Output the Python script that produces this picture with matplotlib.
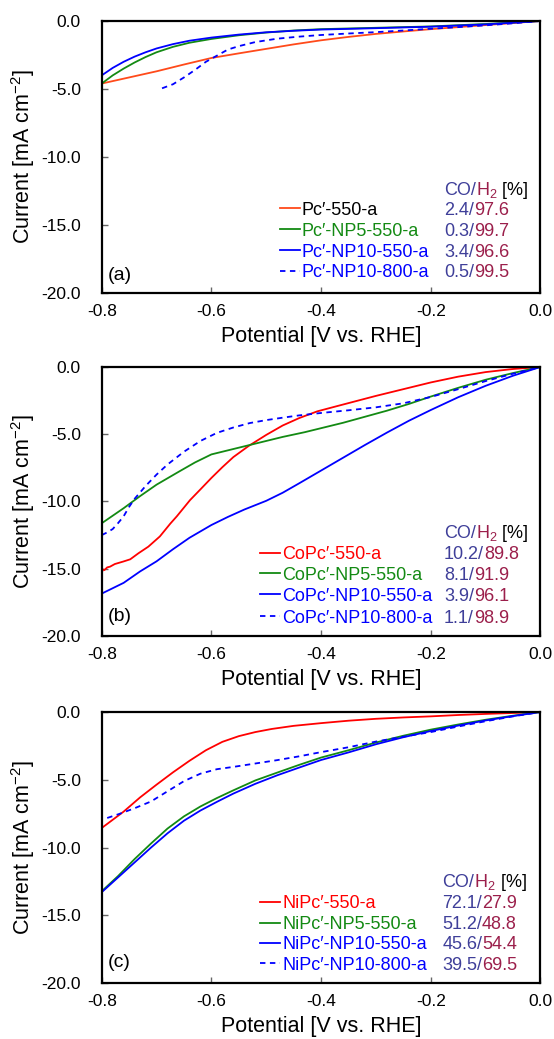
import matplotlib
matplotlib.use("Agg")
import matplotlib.pyplot as plt
from matplotlib.ticker import FormatStrFormatter
from matplotlib.transforms import offset_copy

plt.rcParams['font.family'] = ['Liberation Sans', 'DejaVu Sans']
plt.rcParams['mathtext.fontset'] = 'custom'
plt.rcParams['mathtext.rm'] = 'Liberation Sans'
plt.rcParams['mathtext.it'] = 'Liberation Sans:italic'
plt.rcParams['axes.unicode_minus'] = False

# ---- panel (a): metal-free Pc'
a_550_v = [-0.80, -0.75, -0.70, -0.65, -0.60, -0.55, -0.50, -0.45, -0.40, -0.35, -0.30, -0.25, -0.20, -0.15, -0.10, -0.05, 0.00]
a_550_j = [-4.6, -4.15, -3.7, -3.2, -2.72, -2.38, -2.05, -1.72, -1.42, -1.17, -0.95, -0.77, -0.6, -0.45, -0.3, -0.15, 0.0]
a_np5_v = [-0.80, -0.78, -0.76, -0.74, -0.72, -0.70, -0.67, -0.64, -0.60, -0.55, -0.50, -0.45, -0.40, -0.30, -0.20, -0.10, 0.00]
a_np5_j = [-4.6, -4.0, -3.5, -3.05, -2.65, -2.3, -1.9, -1.6, -1.32, -1.05, -0.85, -0.7, -0.6, -0.5, -0.4, -0.22, 0.0]
a_np10_v = [-0.80, -0.78, -0.76, -0.74, -0.72, -0.70, -0.67, -0.64, -0.60, -0.55, -0.50, -0.45, -0.40, -0.30, -0.20, -0.10, 0.00]
a_np10_j = [-4.0, -3.45, -3.0, -2.62, -2.3, -2.02, -1.7, -1.45, -1.22, -1.0, -0.83, -0.72, -0.63, -0.53, -0.42, -0.25, 0.0]
a_800_v = [-0.69, -0.67, -0.65, -0.63, -0.61, -0.59, -0.57, -0.55, -0.52, -0.48, -0.44, -0.40, -0.35, -0.30, -0.25, -0.20, -0.15, -0.10, -0.05, 0.00]
a_800_j = [-4.95, -4.65, -4.15, -3.6, -3.0, -2.55, -2.1, -1.85, -1.55, -1.3, -1.15, -1.03, -0.92, -0.82, -0.7, -0.57, -0.45, -0.32, -0.17, 0.0]

# ---- panel (b): CoPc'
b_550_v = [-0.800, -0.798, -0.795, -0.790, -0.785, -0.776, -0.761, -0.748, -0.733, -0.715, -0.694, -0.675, -0.663, -0.650,
           -0.639, -0.620, -0.600, -0.580, -0.560, -0.532, -0.500, -0.470, -0.440, -0.407, -0.370, -0.342, -0.300, -0.250,
           -0.200, -0.150, -0.100, -0.050, 0.000]
b_550_j = [-15.35, -15.05, -15.1, -14.9, -14.85, -14.65, -14.47, -14.3, -13.85, -13.36, -12.6, -11.65, -11.1, -10.45,
           -9.9, -9.1, -8.25, -7.45, -6.7, -5.87, -5.05, -4.35, -3.8, -3.3, -2.9, -2.6, -2.15, -1.65,
           -1.15, -0.72, -0.38, -0.15, 0.0]
b_np5_v = [-0.80, -0.76, -0.73, -0.70, -0.66, -0.63, -0.60, -0.56, -0.53, -0.50, -0.47, -0.43, -0.40, -0.36, -0.32, -0.28,
           -0.24, -0.20, -0.15, -0.10, -0.05, 0.00]
b_np5_j = [-11.62, -10.5, -9.6, -8.75, -7.8, -7.1, -6.5, -6.1, -5.8, -5.5, -5.2, -4.85, -4.55, -4.15, -3.7, -3.25,
           -2.75, -2.2, -1.55, -0.95, -0.45, 0.0]
b_np10_v = [-0.80, -0.76, -0.73, -0.70, -0.67, -0.64, -0.60, -0.57, -0.54, -0.50, -0.47, -0.44, -0.40, -0.36, -0.32, -0.28,
            -0.24, -0.20, -0.15, -0.10, -0.05, 0.00]
b_np10_j = [-16.85, -16.05, -15.2, -14.45, -13.55, -12.7, -11.75, -11.15, -10.6, -9.95, -9.35, -8.65, -7.7, -6.75, -5.8, -4.88,
            -4.0, -3.2, -2.25, -1.4, -0.65, 0.0]
b_800_v = [-0.80, -0.79, -0.78, -0.77, -0.76, -0.75, -0.74, -0.72, -0.70, -0.68, -0.65, -0.62, -0.59, -0.56, -0.53, -0.50,
           -0.47, -0.44, -0.40, -0.35, -0.30, -0.25, -0.20, -0.15, -0.10, -0.05, 0.00]
b_800_j = [-12.5, -12.3, -12.05, -11.6, -11.1, -10.4, -9.8, -8.85, -8.0, -7.25, -6.3, -5.5, -4.9, -4.5, -4.17, -3.95,
           -3.77, -3.6, -3.42, -3.22, -3.0, -2.7, -2.23, -1.65, -1.05, -0.5, 0.0]

# ---- panel (c): NiPc'
c_550_v = [-0.80, -0.76, -0.73, -0.70, -0.67, -0.64, -0.61, -0.58, -0.55, -0.52, -0.49, -0.45, -0.40, -0.35, -0.30, -0.25,
           -0.20, -0.15, -0.10, -0.05, 0.00]
c_550_j = [-8.56, -7.35, -6.3, -5.36, -4.45, -3.6, -2.82, -2.2, -1.78, -1.48, -1.25, -1.02, -0.82, -0.64, -0.5, -0.4,
           -0.32, -0.22, -0.14, -0.07, 0.0]
c_np5_v = [-0.80, -0.77, -0.74, -0.71, -0.68, -0.65, -0.62, -0.59, -0.56, -0.52, -0.48, -0.44, -0.40, -0.35, -0.30, -0.25,
           -0.20, -0.15, -0.10, -0.05, 0.00]
c_np5_j = [-13.23, -12.1, -10.85, -9.7, -8.6, -7.7, -6.97, -6.35, -5.78, -5.05, -4.47, -3.9, -3.36, -2.82, -2.25, -1.75,
           -1.3, -0.92, -0.57, -0.27, 0.0]
c_np10_v = [-0.80, -0.77, -0.74, -0.71, -0.68, -0.65, -0.62, -0.59, -0.56, -0.52, -0.48, -0.44, -0.40, -0.35, -0.30, -0.25,
            -0.20, -0.15, -0.10, -0.05, 0.00]
c_np10_j = [-13.3, -12.2, -11.1, -10.0, -8.95, -8.02, -7.27, -6.63, -6.02, -5.3, -4.67, -4.1, -3.54, -2.98, -2.38, -1.86,
            -1.4, -1.0, -0.62, -0.3, 0.0]
c_800_v = [-0.79, -0.77, -0.74, -0.71, -0.68, -0.65, -0.62, -0.59, -0.56, -0.52, -0.48, -0.44, -0.40, -0.35, -0.30, -0.25,
           -0.20, -0.15, -0.10, -0.05, 0.00]
c_800_j = [-7.82, -7.55, -7.1, -6.6, -5.85, -5.1, -4.55, -4.22, -4.05, -3.8, -3.55, -3.27, -2.96, -2.6, -2.18, -1.82,
           -1.48, -1.07, -0.68, -0.32, 0.0]

# legend names and CO/H2 selectivities
a_names = ["Pc\u2032-550-a", "Pc\u2032-NP5-550-a", "Pc\u2032-NP10-550-a", "Pc\u2032-NP10-800-a"]
a_co = ["2.4", "0.3", "3.4", "0.5"]
a_h2 = ["97.6", "99.7", "96.6", "99.5"]
b_names = ["CoPc\u2032-550-a", "CoPc\u2032-NP5-550-a", "CoPc\u2032-NP10-550-a", "CoPc\u2032-NP10-800-a"]
b_co = ["10.2", "8.1", "3.9", "1.1"]
b_h2 = ["89.8", "91.9", "96.1", "98.9"]
c_names = ["NiPc\u2032-550-a", "NiPc\u2032-NP5-550-a", "NiPc\u2032-NP10-550-a", "NiPc\u2032-NP10-800-a"]
c_co = ["72.1", "51.2", "45.6", "39.5"]
c_h2 = ["27.9", "48.8", "54.4", "69.5"]

x_ticks = [-0.8, -0.6, -0.4, -0.2, 0.0]
y_ticks = [-20.0, -15.0, -10.0, -5.0, 0.0]

RED_A = '#FF4A1A'
RED = '#FF0000'
GREEN = '#138A13'
BLUE = '#0000FF'
CO_COL = '#3F3F99'
H2_COL = '#9B1F4B'

fig = plt.figure(figsize=(5.54, 10.39), dpi=100)
renderer = fig.canvas.get_renderer()

FS_TICK = 12.5
FS_LAB = 15.5
FS_LEG = 13


def put_parts(ax, x, y, parts, size):
    # pieces of text in different colours, placed one after another on a shared baseline
    trans = offset_copy(ax.transAxes, fig=fig, y=-0.36 * size, units='points')
    for s, c in parts:
        t = ax.text(x, y, s, color=c, fontsize=size, ha='left', va='baseline', transform=trans)
        bb = t.get_window_extent(renderer)
        x = ax.transAxes.inverted().transform((bb.x1, bb.y0))[0]


def make_panel(box, curves, names, name_cols, co, h2, tag, leg):
    ax = fig.add_axes(box)
    for v, j, col, ls in curves:
        if ls == '--':
            ax.plot(v, j, color=col, lw=1.3, ls='--', dashes=(3, 2.5))
        else:
            ax.plot(v, j, color=col, lw=1.3)
    ax.set_xlim(-0.8, 0.0)
    ax.set_ylim(-20, 0)
    ax.set_xticks(x_ticks)
    ax.set_yticks(y_ticks)
    ax.xaxis.set_major_formatter(FormatStrFormatter('%.1f'))
    ax.yaxis.set_major_formatter(FormatStrFormatter('%.1f'))
    ax.tick_params(direction='in', length=4.5, width=1, color='#666666', labelsize=FS_TICK)
    ax.tick_params(axis='x', pad=8)
    ax.tick_params(axis='y', pad=15)
    for sp in ax.spines.values():
        sp.set_linewidth(1.6)
    h_px = box[3] * 1039
    ax.set_xlabel("Potential [V vs. RHE]", fontsize=FS_LAB, va='center')
    ax.xaxis.set_label_coords(0.5, -44 / h_px)
    ax.set_ylabel("Current [mA cm$^{-2}$]", fontsize=FS_LAB, va='center')
    ax.yaxis.set_label_coords(-0.179, 0.5)

    x_line0, x_line1, x_text, x_val, rows, y_head = leg
    for k in range(4):
        col, ls = curves[k][2], curves[k][3]
        if ls == '--':
            ax.plot([x_line0, x_line1], [rows[k], rows[k]], transform=ax.transAxes, color=col,
                    lw=1.3, ls='--', dashes=(3, 2.5))
        else:
            ax.plot([x_line0, x_line1], [rows[k], rows[k]], transform=ax.transAxes, color=col, lw=1.3)
        put_parts(ax, x_text, rows[k], [(names[k], name_cols[k])], FS_LEG)
        put_parts(ax, x_val, rows[k], [(co[k] + "/", CO_COL), (h2[k], H2_COL)], FS_LEG)
    put_parts(ax, x_val, y_head, [("CO/", CO_COL), ("H$_2$", H2_COL), (" [%]", 'black')], FS_LEG)
    ax.text(0.014, tag[1], tag[0], transform=ax.transAxes, fontsize=14, ha='left', va='center')
    return ax


make_panel([0.1836, 0.7180, 0.792, 0.2618],
           [(a_550_v, a_550_j, RED_A, '-'), (a_np5_v, a_np5_j, GREEN, '-'),
            (a_np10_v, a_np10_j, BLUE, '-'), (a_800_v, a_800_j, BLUE, '--')],
           a_names, ['black', GREEN, BLUE, BLUE], a_co, a_h2, ("(a)", 0.066),
           (0.406, 0.452, 0.456, 0.780, [0.311, 0.235, 0.158, 0.082], 0.385))

make_panel([0.1836, 0.3879, 0.792, 0.2589],
           [(b_550_v, b_550_j, RED, '-'), (b_np5_v, b_np5_j, GREEN, '-'),
            (b_np10_v, b_np10_j, BLUE, '-'), (b_800_v, b_800_j, BLUE, '--')],
           b_names, [RED, GREEN, BLUE, BLUE], b_co, b_h2, ("(b)", 0.071),
           (0.361, 0.406, 0.412, 0.780, [0.310, 0.233, 0.156, 0.074], 0.388))

make_panel([0.1836, 0.0539, 0.792, 0.2608],
           [(c_550_v, c_550_j, RED, '-'), (c_np5_v, c_np5_j, GREEN, '-'),
            (c_np10_v, c_np10_j, BLUE, '-'), (c_800_v, c_800_j, BLUE, '--')],
           c_names, [RED, GREEN, BLUE, BLUE], c_co, c_h2, ("(c)", 0.074),
           (0.361, 0.406, 0.412, 0.776, [0.300, 0.2225, 0.149, 0.073], 0.380))

fig.savefig("out.png", dpi=100)
